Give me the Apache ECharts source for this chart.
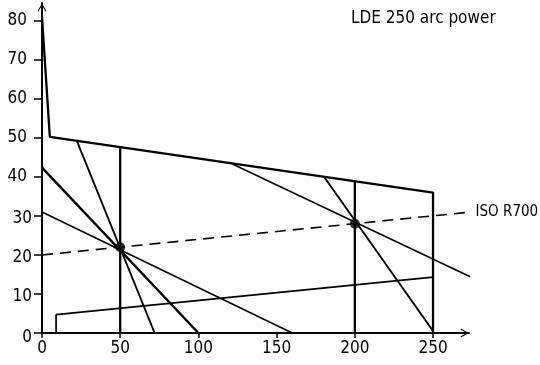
<!DOCTYPE html>
<html>
<head>
<meta charset="utf-8">
<title>LDE 250 arc power</title>
<script src="https://cdn.jsdelivr.net/npm/echarts@6/dist/echarts.min.js"></script>
<style>
  html, body { margin: 0; padding: 0; background: #fff; }
  #chart { width: 540px; height: 365px; }
</style>
</head>
<body>
<div id="chart"></div>
<script>
// Axis tick values
const xTicks = [0, 50, 100, 150, 200, 250];
const yTicks = [0, 10, 20, 30, 40, 50, 60, 70, 80];

// Operating envelope of the welding source (current, voltage)
const envelope = [[0, 81], [5, 50.3], [250, 36], [250, 0]];
const lowerLimit = [[9, 0], [9, 4.7], [250, 14.3]];
const vertical50 = [[50, 0], [50, 47.4]];
const vertical200 = [[200, 0], [200, 38.9]];

// ISO R700 conventional load line
const isoR700 = [[0, 20], [274, 31]];

// Static characteristics through the 50 A point
const char50a = [[22.4, 49.1], [72, 0]];
const char50b = [[0, 42.4], [100, 0]];
const char50c = [[0, 31], [160, 0]];

// Static characteristics through the 200 A point
const char200a = [[121.4, 43.4], [273.8, 14.4]];
const char200b = [[180.4, 40], [250, 0.5]];

// Rated operating points
const ratedPoints = [[50, 22], [200, 28]];

const FONT = '"DejaVu Sans Condensed", "Liberation Sans Narrow", "Noto Sans", sans-serif';
const INK = '#000';

// Open chevron used as axis arrow head
const arrowHead = 'path://M0,0 L6,10 L4.8,10.8 L0,2.6 L-4.8,10.8 L-6,10 Z';

function segment(data, width, extra) {
  return Object.assign({
    type: 'line',
    data: data,
    symbol: 'none',
    clip: false,
    silent: true,
    lineStyle: { color: INK, width: width },
    z: 3
  }, extra || {});
}

const chart = echarts.init(document.getElementById('chart'), null, { renderer: 'canvas' });

chart.setOption({
  animation: false,
  backgroundColor: '#fff',
  title: {
    text: 'LDE 250 arc power',
    left: 351,
    top: 10,
    padding: 0,
    textStyle: { fontFamily: FONT, fontSize: 17, fontWeight: 'normal', color: INK }
  },
  grid: { left: 42, right: 71, top: 3, bottom: 32 },
  xAxis: {
    type: 'value',
    min: 0,
    max: 273,
    axisLine: {
      show: true,
      lineStyle: { color: INK, width: 2 },
      symbol: ['none', arrowHead],
      symbolSize: [9, 9],
      symbolOffset: [0, -4.5]
    },
    axisTick: { show: true, length: 5, customValues: xTicks, lineStyle: { color: INK, width: 1.5 } },
    axisLabel: {
      customValues: xTicks,
      margin: 7,
      fontFamily: FONT,
      fontSize: 17,
      color: INK
    },
    splitLine: { show: false }
  },
  yAxis: {
    type: 'value',
    min: 0,
    max: 84.6,
    axisLine: {
      show: true,
      lineStyle: { color: INK, width: 2 },
      symbol: ['none', arrowHead],
      symbolSize: [9, 9],
      symbolOffset: [0, -4.5]
    },
    axisTick: { show: true, length: 8, customValues: yTicks, lineStyle: { color: INK, width: 1.5 } },
    axisLabel: {
      customValues: yTicks,
      margin: 10,
      fontFamily: FONT,
      fontSize: 17,
      color: INK,
      formatter: function (v) {
        if (v === 0) return '{zero|0}';
        return v >= 40 ? '{upper|' + v + '}' : '{lower|' + v + '}';
      },
      rich: {
        upper: { fontFamily: FONT, fontSize: 17, color: INK, padding: [0, 5, 0, 0] },
        lower: { fontFamily: FONT, fontSize: 17, color: INK, padding: [6, 0, 0, 0] },
        zero: { fontFamily: FONT, fontSize: 17, color: INK, padding: [10, 0, 0, 0] }
      }
    },
    splitLine: { show: false }
  },
  series: [
    segment(envelope, 2.3),
    segment(lowerLimit, 1.7),
    segment(vertical50, 2.3),
    segment(vertical200, 2.3),
    segment(isoR700, 1.6, {
      lineStyle: { color: INK, width: 1.6, type: [11, 7] },
      endLabel: {
        show: true,
        formatter: 'ISO R700',
        distance: 5,
        fontFamily: FONT,
        fontSize: 15,
        color: INK
      }
    }),
    segment(char50a, 1.9),
    segment(char50b, 2.4),
    segment(char50c, 1.6),
    segment(char200a, 1.6),
    segment(char200b, 1.9),
    {
      type: 'scatter',
      data: ratedPoints,
      symbol: 'circle',
      symbolSize: 10,
      silent: true,
      itemStyle: { color: INK },
      z: 5
    }
  ]
});
</script>
</body>
</html>
